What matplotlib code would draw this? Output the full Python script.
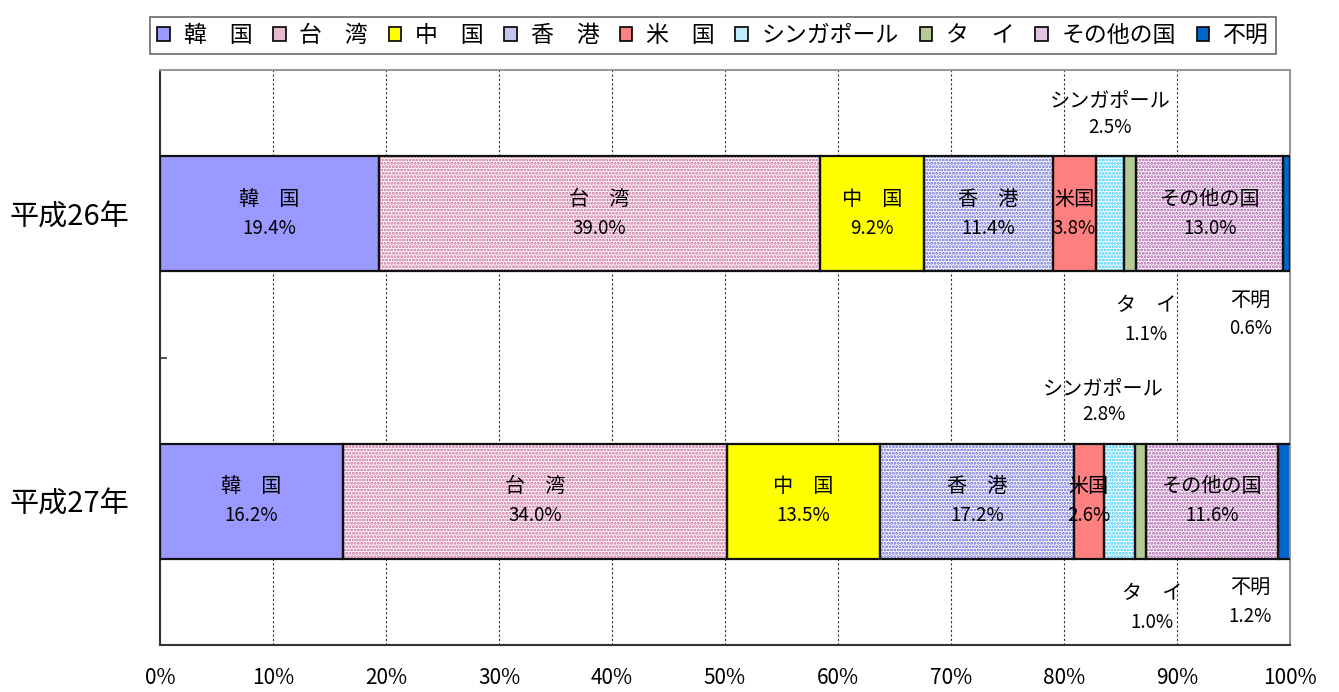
import matplotlib.pyplot as plt
from matplotlib.patches import Patch

plt.rcParams['font.family'] = ['Noto Sans CJK JP', 'DejaVu Sans']
plt.rcParams['hatch.linewidth'] = 1.4

years = ['平成26年', '平成27年']
countries = ['韓国', '台湾', '中国', '香港', '米国', 'シンガポール', 'タイ', 'その他の国', '不明']
legend_names = ['韓　国', '台　湾', '中　国', '香　港', '米　国', 'シンガポール', 'タ　イ', 'その他の国', '不明']
bar_names = ['韓　国', '台　湾', '中　国', '香　港', '米国', 'シンガポール', 'タ　イ', 'その他の国', '不明']
h26 = [19.4, 39.0, 9.2, 11.4, 3.8, 2.5, 1.1, 13.0, 0.6]
h27 = [16.2, 34.0, 13.5, 17.2, 2.6, 2.8, 1.0, 11.6, 1.2]
xticks = [0, 10, 20, 30, 40, 50, 60, 70, 80, 90, 100]

# style: (face, hatch colour or None, flat colour for legend)
styles = [
    ('#9999FF', None, '#9999FF'),
    ('white', '#CC6699', '#E8BCD0'),
    ('#FFFF00', None, '#FFFF00'),
    ('white', '#6666DD', '#C4C4F0'),
    ('#FF8080', None, '#FF8080'),
    ('white', '#33CCFF', '#C0ECFA'),
    ('#B5CA94', None, '#B5CA94'),
    ('white', '#AA55AA', '#E0C4E0'),
    ('#0066CC', None, '#0066CC'),
]
inside = [0, 1, 2, 3, 4, 7]
# outside label x positions (percent) and side: (above for singapore, below for thai/unknown)
outside = {5: ([84.1, 83.5], -1), 6: ([87.3, 87.8], 1), 8: ([96.5, 96.5], 1)}

fig = plt.figure(figsize=(13.39, 6.92), dpi=100)
ax = fig.add_axes([160 / 1339, 1 - 645 / 692, 1130 / 1339, 575 / 692])

bar_h = 0.4
for row, vals in enumerate([h26, h27]):
    left = 0
    for i, v in enumerate(vals):
        face, hcol, flat = styles[i]
        if hcol:
            ax.barh(row, v, left=left, height=bar_h, color=face, edgecolor=hcol,
                    hatch='.....', linewidth=0, zorder=2)
        else:
            ax.barh(row, v, left=left, height=bar_h, color=face, linewidth=0, zorder=2)
        ax.barh(row, v, left=left, height=bar_h, fill=False, edgecolor='#111111',
                linewidth=1.6, zorder=3)
        cx = left + v / 2
        if i in inside:
            ax.text(cx, row - 0.05, bar_names[i], ha='center', va='center', fontsize=14.5, zorder=4)
            ax.text(cx, row + 0.05, f'{v:.1f}%', ha='center', va='center', fontsize=13.5, zorder=4)
        else:
            xs, side = outside[i]
            if side < 0:
                ax.text(xs[row], row - 0.39, bar_names[i], ha='center', va='center', fontsize=14.5)
                ax.text(xs[row], row - 0.30, f'{v:.1f}%', ha='center', va='center', fontsize=13.5)
            else:
                ax.text(xs[row], row + 0.32 if i == 6 else row + 0.30, bar_names[i],
                        ha='center', va='center', fontsize=14.5)
                ax.text(xs[row], row + 0.42 if i == 6 else row + 0.40, f'{v:.1f}%',
                        ha='center', va='center', fontsize=13.5)
        left += v

ax.set_xlim(0, 100)
ax.set_ylim(1.5, -0.5)
ax.set_xticks(xticks)
ax.set_xticklabels([f'{t}%' for t in xticks], fontsize=15)
ax.tick_params(axis='x', length=0, pad=16)
ax.set_yticks([0, 1])
ax.set_yticklabels(years, fontsize=21)
ax.tick_params(axis='y', which='major', length=0, pad=22)
ax.set_yticks([-0.5, 0.5, 1.5], minor=True)
ax.tick_params(axis='y', which='minor', direction='in', length=5, width=1.2, color='#333333')

ax.grid(axis='x', color='#333333', linestyle=(0, (2, 2)), linewidth=0.8, zorder=1)
ax.set_axisbelow(True)
for s in ['top', 'right']:
    ax.spines[s].set_color('#999999')
    ax.spines[s].set_linewidth(1.5)
for s in ['left', 'bottom']:
    ax.spines[s].set_color('#333333')
    ax.spines[s].set_linewidth(1.5)

handles = [Patch(facecolor=st[2], edgecolor='black', linewidth=1.2) for st in styles]
leg = fig.legend(handles, legend_names, loc='upper center', bbox_to_anchor=(713 / 1339, 0.992),
                 ncol=9, fontsize=16.5, frameon=True, fancybox=False, edgecolor='#444444',
                 handlelength=0.55, handleheight=0.55, handletextpad=0.6, columnspacing=0.9,
                 borderpad=0.3)
leg.get_frame().set_linewidth(1.2)

fig.savefig('out.png', dpi=100)
